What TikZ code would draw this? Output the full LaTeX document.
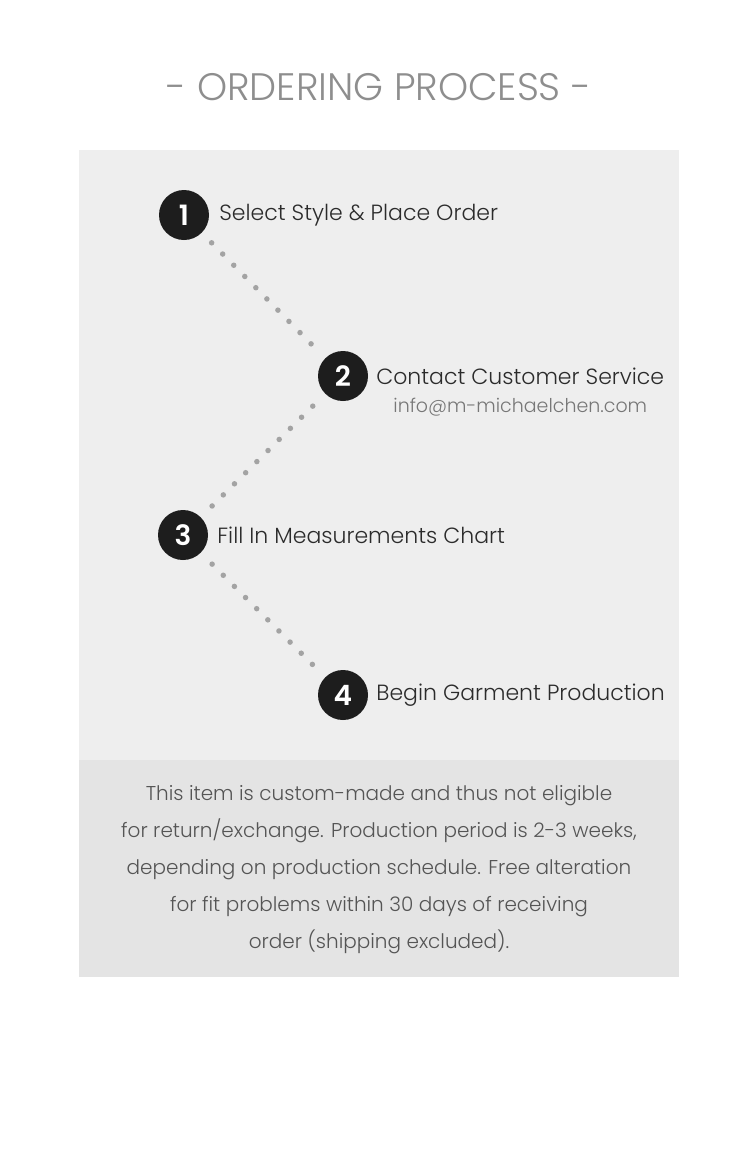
\documentclass[tikz,border=0pt]{standalone}
\usepackage{fontspec}
\setmainfont{Poppins}[UprightFont=* Light, BoldFont=* SemiBold]
\usetikzlibrary{positioning}
\definecolor{panelgray}{HTML}{EEEEEE}
\definecolor{notegray}{HTML}{E4E4E4}
\definecolor{titlegray}{HTML}{8E8E8E}
\definecolor{stepblack}{HTML}{1D1D1D}
\definecolor{dotgray}{HTML}{A3A3A3}
\definecolor{textdark}{HTML}{2B2B2B}
\definecolor{mailgray}{HTML}{777777}
\definecolor{notetext}{HTML}{555555}

\begin{document}
\begin{tikzpicture}[x=1pt, y=-1pt,
  num/.style={circle, fill=stepblack, minimum size=50pt, inner sep=0pt, text=white, font=\fontsize{28}{28}\selectfont\bfseries},
  steptext/.style={anchor=west, inner sep=0pt, text=textdark, font=\fontsize{22}{22}\selectfont},
  dotline/.style={dotgray, line width=5.5pt, line cap=round, dash pattern=on 0pt off 15.75pt}
]
\useasboundingbox (0,0) rectangle (750,1149);
\fill[white] (0,0) rectangle (750,1149);
\fill[panelgray] (79,150) rectangle (679,760);
\fill[notegray] (79,760) rectangle (679,977);

\node[text=titlegray, font=\fontsize{38.3}{39}\selectfont] (title) at (379,87) {- ORDERING PROCESS -};

\node[num] (n1) at (184,215) {1};
\node[num] (n2) at (343,376) {2};
\node[num] (n3) at (183,535) {3};
\node[num] (n4) at (343,695) {4};

\node[steptext, right=10pt of n1] (s1) {Select Style \& Place Order};
\node[steptext, right=8pt of n2] (s2) {Contact Customer Service};
\node[steptext, right=9pt of n3] (s3) {Fill In Measurements Chart};
\node[steptext, right=8pt of n4] (s4) {Begin Garment Production};
\node[below=13pt of s2, inner sep=0pt, text=mailgray, font=\fontsize{19}{19}\selectfont] (mail) {info@m-michaelchen.com};

\draw[dotline, shorten <=14pt, shorten >=18.5pt] (n1.south east) -- (n2.north west);
\draw[dotline, shorten <=17.5pt, shorten >=15pt] (n2.south west) -- (n3.north east);
\draw[dotline, shorten <=16pt, shorten >=17pt] (n3.south east) -- (n4.north west);

\node[align=center, text=notetext, font=\fontsize{20}{37}\selectfont] (note) at (379,870)
  {This item is custom-made and thus not eligible\\
   for return/exchange. Production period is 2-3 weeks,\\
   depending on production schedule. Free alteration\\
   for fit problems within 30 days of receiving\\
   order (shipping excluded).};
\end{tikzpicture}
\end{document}
